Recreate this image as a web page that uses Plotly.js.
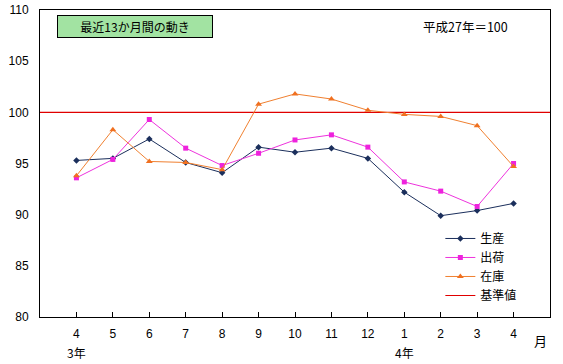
<!DOCTYPE html>
<html>
<head>
<meta charset="utf-8">
<script src="https://cdn.plot.ly/plotly-3.0.1.min.js"></script>
<style>html,body{margin:0;padding:0;background:#fff;}#chart{width:563px;height:364px;}</style>
</head>
<body>
<div id="chart"></div>
<script>
var months = ["4","5","6","7","8","9","10","11","12","1","2","3","4"];
var production = [95.3, 95.5, 97.4, 95.1, 94.1, 96.6, 96.1, 96.5, 95.5, 92.2, 89.9, 90.4, 91.1];
var shipments  = [93.6, 95.4, 99.3, 96.5, 94.8, 96.0, 97.3, 97.8, 96.6, 93.2, 92.3, 90.8, 95.0];
var inventory  = [93.8, 98.3, 95.2, 95.1, 94.4, 100.8, 101.8, 101.3, 100.2, 99.8, 99.6, 98.7, 94.7];
var baseValue = 100;
var seriesNames = ["生産", "出荷", "在庫", "基準値"];
var yearLabels = ["3年", "4年"];
var yearIdx = [0, 9];

var idx = months.map(function(_, i){ return i; });
var font = "Liberation Sans, Arial, sans-serif";
var jfont = "Noto Sans CJK JP, sans-serif";

var traces = [
  {x: [-1, 13], y: [baseValue, baseValue], name: seriesNames[3], mode: "lines", legendrank: 2000,
   line: {color: "#e00000", width: 1.2}, hoverinfo: "skip"},
  {x: idx, y: production, name: seriesNames[0], mode: "lines+markers", legendrank: 1,
   line: {color: "#1b2f5c", width: 1}, marker: {symbol: "diamond", size: 5, color: "#1b2f5c"}},
  {x: idx, y: shipments, name: seriesNames[1], mode: "lines+markers", legendrank: 2,
   line: {color: "#ee33dd", width: 1}, marker: {symbol: "square", size: 5, color: "#ee22dd"}},
  {x: idx, y: inventory, name: seriesNames[2], mode: "lines+markers", legendrank: 3,
   line: {color: "#f08030", width: 1}, marker: {symbol: "triangle-up", size: 6, color: "#f07020"}}
];

var annotations = [
  {xref: "paper", yref: "paper", x: 0.187, y: 0.985, xanchor: "center", yanchor: "top",
   text: "最近13か月間の動き", showarrow: false, font: {family: jfont, size: 12, color: "#000"},
   bgcolor: "#a2e3a2", bordercolor: "#000", borderwidth: 1, borderpad: 2, width: 150},
  {xref: "paper", yref: "paper", x: 0.835, y: 0.985, xanchor: "center", yanchor: "top",
   text: "平成27年＝100", showarrow: false, font: {family: jfont, size: 12.5, color: "#000"}},
  {xref: "paper", yref: "paper", x: 0.982, y: -0.04, xanchor: "center", yanchor: "top",
   text: "月", showarrow: false, font: {family: jfont, size: 13, color: "#000"}}
];
yearLabels.forEach(function(t, k){
  annotations.push({xref: "x", yref: "paper", x: yearIdx[k], y: -0.08, xanchor: "center", yanchor: "top",
    text: t, showarrow: false, font: {family: jfont, size: 12, color: "#000"}});
});

var layout = {
  width: 563, height: 364,
  margin: {l: 40, r: 13, t: 10, b: 47},
  paper_bgcolor: "#fff", plot_bgcolor: "#fff",
  showlegend: true,
  legend: {x: 0.785, y: 0.303, xanchor: "left", yanchor: "top", bgcolor: "rgba(0,0,0,0)",
    font: {family: jfont, size: 12, color: "#000"}, tracegroupgap: 0, itemwidth: 30},
  xaxis: {range: [-1, 13], tickmode: "array", tickvals: idx, ticktext: months,
    showgrid: false, zeroline: false, showline: true, linecolor: "#000", linewidth: 1, mirror: true,
    ticks: "inside", ticklen: 5, tickcolor: "#000", tickfont: {family: font, size: 12, color: "#000"},
    ticklabelstandoff: 6},
  yaxis: {range: [80, 110], dtick: 5, tick0: 80, showgrid: false, zeroline: false,
    showline: true, linecolor: "#000", linewidth: 1, mirror: true,
    ticks: "", tickfont: {family: font, size: 12, color: "#000"}, ticklabelstandoff: 8},
  annotations: annotations
};

Plotly.newPlot("chart", traces, layout, {displayModeBar: false, staticPlot: true});
</script>
</body>
</html>
